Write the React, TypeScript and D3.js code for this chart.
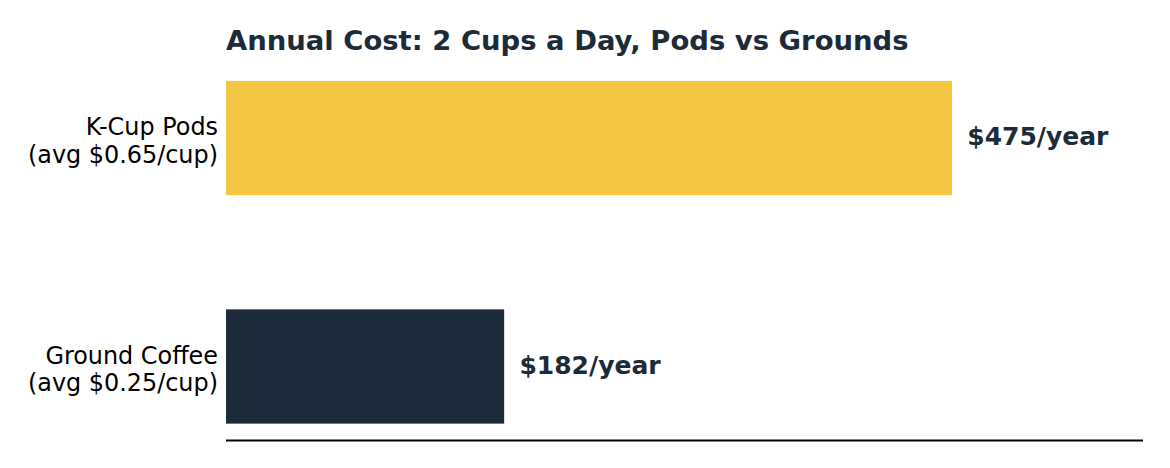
import React from "react";
import * as d3 from "d3";

const categories = ["Ground Coffee\n(avg $0.25/cup)", "K-Cup Pods\n(avg $0.65/cup)"];
const values = [182, 475];
const valueLabels = ["$182/year", "$475/year"];
const colors = ["#1C2B3A", "#F4C742"];
const title = "Annual Cost: 2 Cups a Day, Pods vs Grounds";

const W = 1170;
const H = 468;
const left = 226;
const right = 1143;
const bottom = 441;

export default function App() {
  const x = d3.scaleLinear().domain([0, 600]).range([left, right]);
  const y = d3.scaleLinear().domain([-0.326, 1.326]).range([bottom, 63.5]);
  const barH = 0.5;
  const font = "DejaVu Sans";
  const labelSize = 23.9;
  const lh = 27.7;
  return (
    <svg width={W} height={H} style={{ position: "absolute", left: 0, top: 0 }}>
      <rect width={W} height={H} fill="#fff" />
      <text x={left} y={49.5} fontFamily={font} fontWeight="bold" fontSize={27.45} fill="#1C2B3A">
        {title}
      </text>
      {values.map((v, i) => {
        const lines = categories[i].split("\n");
        const cy = y(i);
        return (
          <g key={i}>
            <rect
              x={x(0)}
              y={y(i + barH / 2)}
              width={x(v) - x(0)}
              height={y(i - barH / 2) - y(i + barH / 2)}
              fill={colors[i]}
            />
            <text
              x={x(v + 10)}
              y={cy}
              dy="0.3em"
              fontFamily={font}
              fontWeight="bold"
              fontSize={25}
              fill="#1C2B3A"
            >
              {valueLabels[i]}
            </text>
            {lines.map((l, j) => (
              <text
                key={j}
                x={left - 8}
                y={cy + (j - (lines.length - 1) / 2) * lh + 10.85}
                textAnchor="end"
                fontFamily={font}
                fontSize={labelSize}
                fill="#000"
              >
                {l}
              </text>
            ))}
          </g>
        );
      })}
      <line x1={left} x2={right} y1={440.5} y2={440.5} stroke="#000" strokeWidth={1.8} />
    </svg>
  );
}
